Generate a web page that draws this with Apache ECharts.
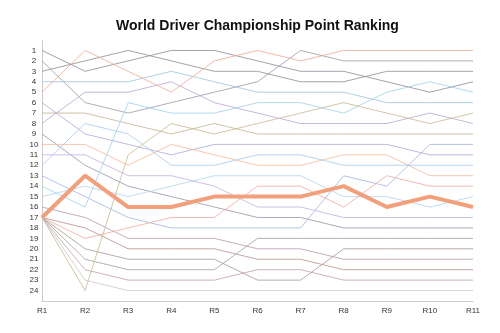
<!DOCTYPE html>
<html>
<head>
<meta charset="utf-8">
<script src="https://cdn.jsdelivr.net/npm/echarts@6/dist/echarts.min.js"></script>
<style>html,body{margin:0;padding:0;background:#fff;}#c{width:500px;height:333px;}</style>
</head>
<body>
<div id="c"></div>
<script>
const rounds = ['R1','R2','R3','R4','R5','R6','R7','R8','R9','R10','R11'];
const rankLabels = ['1','2','3','4','5','6','7','8','9','10','11','12','13','14','15','16','17','18','19','20','21','22','23','24'];

const driver01 = [1, 3, 2, 1, 1, 2, 3, 3, 4, 5, 4];
const driver02 = [2, 6, 7, 6, 5, 4, 1, 2, 2, 2, 2];
const driver03 = [3, 2, 1, 2, 3, 3, 4, 4, 3, 3, 3];
const driver04 = [4, 4, 4, 3, 4, 5, 5, 5, 6, 6, 6];
const driver05 = [5, 1, 3, 5, 2, 1, 2, 1, 1, 1, 1];
const driver06 = [6, 9, 10, 11, 10, 10, 10, 10, 10, 11, 11];
const driver07 = [7, 7, 8, 9, 8, 9, 9, 9, 9, 9, 9];
const driver08 = [8, 5, 5, 4, 6, 7, 8, 8, 8, 7, 8];
const driver09 = [9, 12, 14, 15, 16, 17, 17, 18, 18, 18, 18];
const driver10 = [10, 10, 12, 10, 11, 12, 12, 11, 11, 13, 13];
const driver11 = [11, 11, 13, 13, 14, 16, 16, 17, 17, 17, 17];
const driver12 = [12, 8, 9, 12, 12, 11, 11, 12, 12, 12, 12];
const driver13 = [13, 15, 17, 18, 18, 18, 18, 13, 14, 10, 10];
const driver14 = [14, 16, 6, 7, 7, 6, 6, 7, 5, 4, 5];
const driver15 = [15, 14, 15, 14, 13, 13, 13, 15, 15, 16, 15];
const driver16 = [16, 17, 19, 19, 19, 20, 20, 21, 21, 21, 21];
const driver18 = [17, 18, 20, 20, 20, 21, 21, 22, 22, 22, 22];
const driver19 = [17, 19, 18, 17, 17, 14, 14, 16, 13, 14, 14];
const driver20 = [17, 20, 21, 21, 21, 23, 23, 20, 20, 20, 20];
const driver21 = [17, 21, 22, 22, 22, 19, 19, 19, 19, 19, 19];
const driver22 = [17, 22, 23, 23, 23, 22, 22, 23, 23, 23, 23];
const driver23 = [17, 23, 24, 24, 24, 24, 24, 24, 24, 24, 24];
const driver24 = [17, 24, 11, 8, 9, 8, 7, 6, 7, 8, 7];
const highlighted = [17, 13, 16, 16, 15, 15, 15, 14, 16, 15, 16];

const thinLines = [driver01, driver02, driver03, driver04, driver05, driver06, driver07, driver08,
  driver09, driver10, driver11, driver12, driver13, driver14, driver15, driver16,
  driver18, driver19, driver20, driver21, driver22, driver23, driver24];
const thinColors = ['#8c8c9c','#9a9aa8','#8e8e8e','#9cc3dd','#f0a890','#b0a8d8','#c0b490','#b8a8d0',
  '#9a92a8','#f4b898','#c0b0e0','#a8c8e8','#a0b4e0','#a0d0e8','#b0d4ec','#b49ab0',
  '#b8908c','#f0a8a0','#a89890','#a0a0a0','#c0a0a8','#c8c8c8','#c8b890'];

const series = thinLines.map((d, i) => ({
  type: 'line', data: d, symbol: 'none', silent: true,
  lineStyle: { width: 1, color: thinColors[i], opacity: 0.8 }, z: 2
}));
series.push({
  type: 'line', data: highlighted, symbol: 'none', silent: true,
  lineStyle: { width: 4, color: '#f2a07b' }, z: 5
});

const chart = echarts.init(document.getElementById('c'), null, { renderer: 'canvas' });
chart.setOption({
  animation: false,
  backgroundColor: '#fff',
  title: {
    text: 'World Driver Championship Point Ranking',
    left: 111, top: 14,
    textStyle: { fontFamily: 'Liberation Sans, Arial, sans-serif', fontSize: 14, fontWeight: 'bold', color: '#111' }
  },
  grid: { left: 42, right: 27, top: 40, bottom: 32 },
  xAxis: {
    type: 'category', data: rounds, boundaryGap: false, position: 'bottom',
    axisLine: { onZero: false, lineStyle: { color: '#ccc' } },
    axisTick: { show: false },
    axisLabel: { color: '#333', fontSize: 8, margin: 6, fontFamily: 'Liberation Sans, Arial, sans-serif' },
    splitLine: { show: false }
  },
  yAxis: {
    type: 'value', inverse: true, min: 0, max: 25, interval: 1,
    axisLine: { show: true, onZero: false, lineStyle: { color: '#ccc' } },
    axisTick: { show: false },
    splitLine: { show: false },
    axisLabel: {
      color: '#333', fontSize: 8, margin: 8, align: 'center',
      fontFamily: 'Liberation Sans, Arial, sans-serif',
      formatter: v => (v >= 1 && v <= 24) ? rankLabels[v - 1] : ''
    }
  },
  series: series
});
</script>
</body>
</html>
